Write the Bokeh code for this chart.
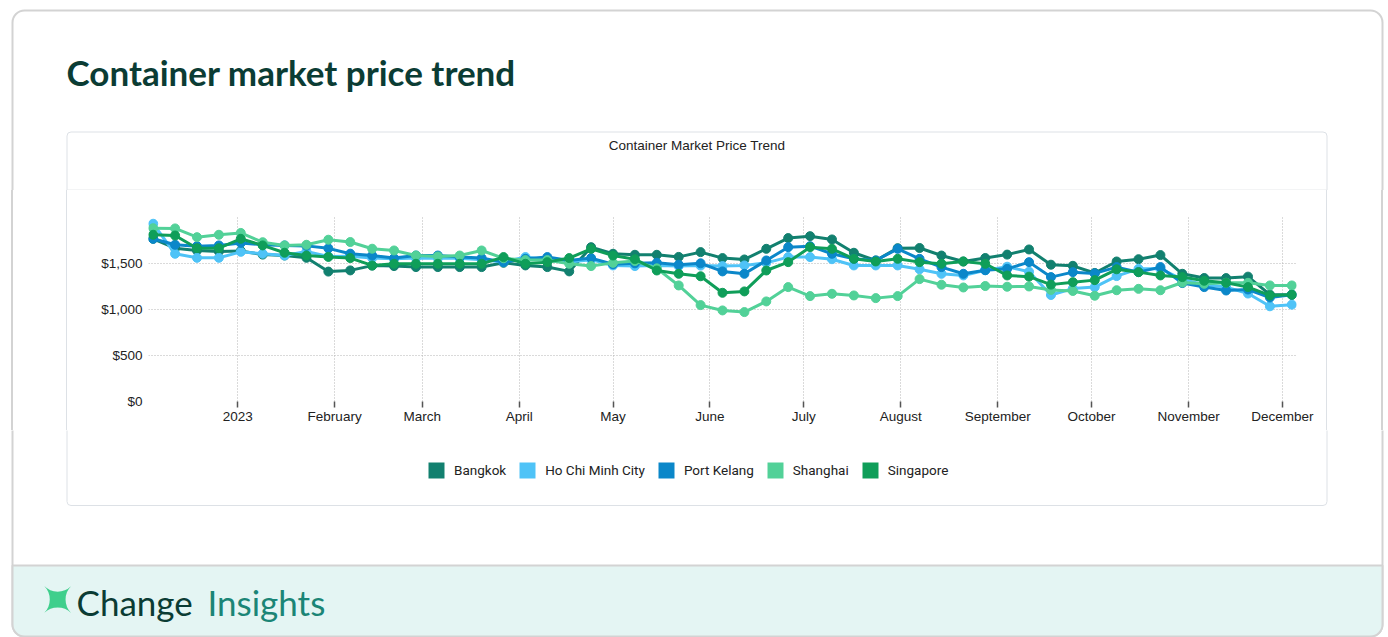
import pandas as pd
from bokeh.plotting import figure
from bokeh.layouts import column, row
from bokeh.models import (Legend, LegendItem, FixedTicker, NumeralTickFormatter,
                          Range1d, ColumnDataSource, Spacer)
from bokeh.core.properties import value
from bokeh.embed import file_html
from bokeh.resources import INLINE

# ---------------- data ----------------
first_week = "2022-12-05"
n_weeks = 53
dates = pd.date_range(first_week, periods=n_weeks, freq="7D")

bangkok = [1772, 1670, 1645, 1634, 1640, 1600, 1590, 1565, 1415, 1428, 1480, 1475, 1464,
           1464, 1464, 1464, 1511, 1482, 1464, 1417, 1681, 1609, 1598, 1598, 1575, 1627,
           1562, 1547, 1663, 1780, 1801, 1765, 1620, 1536, 1670, 1672, 1590, 1525, 1563,
           1600, 1656, 1490, 1478, 1400, 1525, 1550, 1595, 1391, 1345, 1344, 1360, 1164, 1164]
ho_chi_minh = [1936, 1609, 1565, 1565, 1630, 1610, 1590, 1634, 1580, 1583, 1562, 1554, 1562,
               1560, 1560, 1545, 1520, 1573, 1540, 1520, 1545, 1482, 1475, 1482, 1475, 1480,
               1475, 1482, 1510, 1573, 1573, 1550, 1482, 1482, 1482, 1440, 1391, 1373, 1430,
               1468, 1413, 1160, 1230, 1246, 1366, 1445, 1445, 1330, 1271, 1246, 1176, 1037, 1055]
port_kelang = [1772, 1707, 1692, 1700, 1727, 1707, 1700, 1695, 1668, 1610, 1590, 1562, 1590,
               1590, 1573, 1562, 1518, 1554, 1573, 1536, 1562, 1495, 1505, 1511, 1490, 1505,
               1417, 1391, 1536, 1681, 1692, 1609, 1554, 1536, 1663, 1554, 1464, 1391, 1430,
               1445, 1518, 1355, 1409, 1395, 1464, 1409, 1464, 1290, 1246, 1209, 1220, 1133, 1162]
shanghai = [1888, 1885, 1790, 1816, 1836, 1735, 1700, 1707, 1762, 1737, 1664, 1645, 1590,
            1580, 1590, 1645, 1560, 1540, 1540, 1500, 1475, 1510, 1530, 1450, 1264, 1050,
            992, 974, 1090, 1246, 1148, 1173, 1155, 1126, 1148, 1333, 1272, 1242, 1258,
            1250, 1253, 1215, 1204, 1152, 1212, 1227, 1212, 1296, 1282, 1293, 1293, 1264, 1264]
singapore = [1816, 1808, 1670, 1670, 1772, 1700, 1620, 1590, 1575, 1562, 1482, 1500, 1500,
             1500, 1500, 1500, 1573, 1500, 1518, 1562, 1663, 1590, 1550, 1427, 1391, 1364,
             1184, 1199, 1427, 1518, 1681, 1663, 1554, 1525, 1554, 1518, 1500, 1525, 1500,
             1373, 1360, 1273, 1300, 1322, 1440, 1409, 1373, 1355, 1315, 1293, 1246, 1155, 1162]

series_names = ["Bangkok", "Ho Chi Minh City", "Port Kelang", "Shanghai", "Singapore"]
series_values = [bangkok, ho_chi_minh, port_kelang, shanghai, singapore]
series_colors = ["#12806f", "#4fc3f7", "#0b87c9", "#52d198", "#0f9e59"]

month_starts = pd.date_range("2023-01-01", periods=12, freq="MS")
month_labels = ["2023", "February", "March", "April", "May", "June", "July",
                "August", "September", "October", "November", "December"]
y_ticks = [0, 500, 1000, 1500]

page_title = "Container market price trend"
chart_title = "Container Market Price Trend"

# ---------------- styles ----------------
CARD_LINE = "#d3d3d3"
BOX_LINE = "#dde1e6"
DARK = "#0b3c34"
TEAL = "#1b8576"
FOOT = "#e4f5f3"
AXIS_FONT = "Liberation Sans"
NAN = float("nan")


def deco(w, h):
    """A plain canvas whose data units are pixels (y grows downward)."""
    f = figure(width=w, height=h, x_range=Range1d(0, w), y_range=Range1d(h, 0),
               output_backend="svg", toolbar_location=None, title=None,
               x_axis_location=None, y_axis_location=None, min_border=0)
    f.outline_line_color = None
    f.background_fill_color = "white"
    f.border_fill_color = "white"
    f.grid.visible = False
    return f


# ---------------- top band: card top, page title, chart box header ----------------
top = deco(1388, 190)
top.quad(left=[12], right=[1382], top=[10], bottom=[500], fill_color="white",
         line_color=CARD_LINE, line_width=2, border_radius=12)
top.text(x=[66], y=[71], text=[page_title], text_font=value("Lato"),
         text_font_style="bold", text_font_size="35px", text_color=DARK,
         text_baseline="middle")
top.quad(left=[66.5], right=[1326.5], top=[131.5], bottom=[500], fill_color="white",
         line_color=BOX_LINE, line_width=1, border_radius=4)
top.text(x=[696.5], y=[145], text=[chart_title], text_font=value(AXIS_FONT),
         text_font_size="13.5px", text_color="#222222", text_align="center",
         text_baseline="middle")
top.segment(x0=[66.5], y0=[189.5], x1=[1326.5], y1=[189.5], line_color="#e6e8eb",
            line_width=1)

# ---------------- side strips (card and box borders beside the chart) ----------------
left_strip = Spacer(width=67, height=240, styles={
    "background": "linear-gradient(to right, #ffffff 0px, #ffffff 11px, "
                  f"{CARD_LINE} 11px, {CARD_LINE} 13px, #ffffff 13px, #ffffff 66px, "
                  f"{BOX_LINE} 66px, {BOX_LINE} 67px)"})
right_strip = Spacer(width=62, height=240, styles={
    "background": f"linear-gradient(to right, {BOX_LINE} 0px, {BOX_LINE} 1px, "
                  f"#ffffff 1px, #ffffff 55px, {CARD_LINE} 55px, {CARD_LINE} 57px, "
                  "#ffffff 57px, #ffffff 62px)"})

# ---------------- chart ----------------
pad = pd.Timedelta(hours=36)
p = figure(width=1259, height=240, x_axis_type="datetime", output_backend="svg",
           toolbar_location=None, title=None,
           x_range=Range1d(dates[0] - pad, dates[-1] + pad),
           y_range=Range1d(0, 2015),
           min_border_left=81, min_border_right=30,
           min_border_top=26, min_border_bottom=29)
p.outline_line_color = None
p.background_fill_color = "white"
p.border_fill_color = "white"

tick_ms = [int(t.timestamp() * 1000) for t in month_starts]
xa = p.xaxis[0]
xa.ticker = FixedTicker(ticks=tick_ms, minor_ticks=[])
xa.major_label_overrides = {ms: lab for ms, lab in zip(tick_ms, month_labels)}
xa.axis_line_color = None
xa.major_tick_in = 0
xa.major_tick_out = 6
xa.major_tick_line_color = "#555555"
xa.major_tick_line_width = 1.5
xa.minor_tick_line_color = None
xa.major_label_standoff = 1
xa.major_label_text_font = AXIS_FONT
xa.major_label_text_font_size = "13.5px"
xa.major_label_text_color = "#222222"

ya = p.yaxis[0]
ya.ticker = FixedTicker(ticks=y_ticks, minor_ticks=[])
ya.formatter = NumeralTickFormatter(format="$0,0")
ya.axis_line_color = None
ya.major_tick_in = 0
ya.major_tick_out = 0
ya.major_tick_line_color = None
ya.minor_tick_line_color = None
ya.major_label_standoff = 6
ya.major_label_text_font = AXIS_FONT
ya.major_label_text_font_size = "13.5px"
ya.major_label_text_color = "#222222"

for g in (p.xgrid[0], p.ygrid[0]):
    g.grid_line_color = "#b4b4b4"
    g.grid_line_dash = "1 2"
    g.grid_line_width = 1

for name, vals, col in zip(series_names, series_values, series_colors):
    src = ColumnDataSource(dict(date=dates, price=vals))
    p.line("date", "price", source=src, line_color=col, line_width=3)
    p.scatter("date", "price", source=src, size=9, fill_color=col, line_color=col)

# ---------------- bottom band: legend, box bottom, footer ----------------
bot = deco(1388, 207)
bot.quad(left=[12], right=[1382], top=[-300], bottom=[206], fill_color="white",
         line_color=CARD_LINE, line_width=2, border_radius=12)
bot.quad(left=[66.5], right=[1326.5], top=[-300], bottom=[75], fill_color="white",
         line_color=BOX_LINE, line_width=1, border_radius=4)
bot.quad(left=[12], right=[1382], top=[135], bottom=[206], fill_color=FOOT,
         line_color=CARD_LINE, line_width=2, border_radius=(0, 0, 12, 12))

items = []
for name, col in zip(series_names, series_colors):
    # legend key only: a quad with no drawable extent
    key = bot.quad(left=[NAN], right=[NAN], top=[NAN], bottom=[NAN],
                   fill_color=col, line_color=None)
    items.append(LegendItem(label=name, renderers=[key]))
legend = Legend(items=items, orientation="horizontal", location=(426, 157),
                glyph_width=20, glyph_height=20, label_standoff=8, spacing=11,
                padding=0, margin=0, label_text_font="Roboto",
                label_text_font_size="13.5px", label_text_color="#222222",
                background_fill_alpha=0, border_line_alpha=0)
bot.add_layout(legend)

bot.text(x=[58], y=[170], text=["\u2726"], text_font=value("DejaVu Sans"),
         text_font_size="50px", text_color="#3fcf8c", text_align="center",
         text_baseline="middle", angle=45, angle_units="deg")
bot.text(x=[76], y=[171], text=["Change"], text_font=value("Lato"),
         text_font_size="35px", text_color=DARK, text_baseline="middle")
bot.text(x=[207], y=[171], text=["Insights"], text_font=value("Lato"),
         text_font_size="35px", text_color=TEAL, text_baseline="middle")

layout = column(top, row(left_strip, p, right_strip), bot)
open("out.html", "w").write(file_html(layout, INLINE))
